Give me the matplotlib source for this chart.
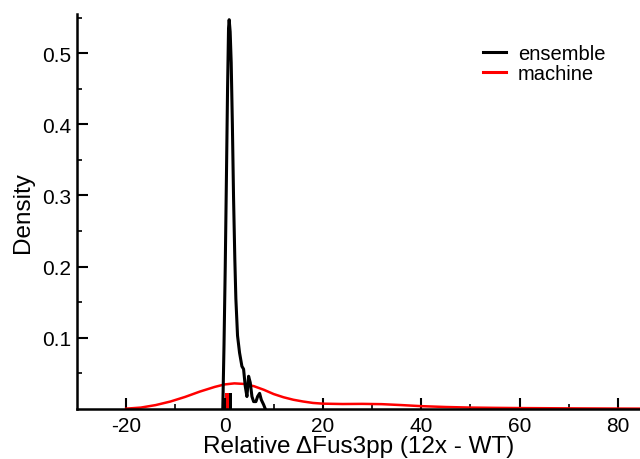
import matplotlib
matplotlib.use('Agg')
import matplotlib.pyplot as plt
import numpy as np

plt.rcParams['font.family'] = ['Liberation Sans', 'DejaVu Sans']
plt.rcParams['axes.unicode_minus'] = False

# ensemble density curve
ens_x = [-0.35, -0.1, 0.15, 0.4, 0.62, 0.82, 0.95, 1.15, 1.36, 1.6, 1.84, 2.1,
         2.31, 2.65, 3.06, 3.54, 3.88, 4.22, 4.56, 4.9, 5.24, 5.58, 5.92, 6.39,
         6.73, 7.14, 7.48, 7.96, 8.3]
ens_y = [0.0, 0.09, 0.2, 0.33, 0.45, 0.535, 0.547, 0.53, 0.487, 0.40, 0.297, 0.21,
         0.155, 0.103, 0.079, 0.060, 0.056, 0.032, 0.0175, 0.046, 0.037, 0.0175, 0.0104, 0.0104,
         0.0175, 0.022, 0.013, 0.006, 0.0]

# machine density curve
mach_x = [-20, -17, -14, -11, -8, -5, -2, 0, 2, 4, 6, 8, 10, 12, 14, 16, 18, 20,
          24, 28, 32, 36, 40, 45, 50, 55, 60, 70, 80, 85]
mach_y = [0.0005, 0.002, 0.0055, 0.0105, 0.017, 0.0245, 0.031, 0.0345, 0.036, 0.0352,
          0.032, 0.027, 0.021, 0.0165, 0.013, 0.0105, 0.0085, 0.0075, 0.007, 0.0072,
          0.0068, 0.0055, 0.004, 0.0028, 0.002, 0.0016, 0.0013, 0.0009, 0.0006, 0.0005]

# small bars near zero
bar_x = [0.5, 1.15]
bar_h = [0.0225, 0.0225]
bar_colors = ['red', 'black']

x_ticks = [-20, 0, 20, 40, 60, 80]
y_ticks = [0.1, 0.2, 0.3, 0.4, 0.5]

fig = plt.figure(figsize=(6.4, 4.6), dpi=100)
ax = fig.add_axes([0.1203, 0.1087, 0.8797, 0.8587])

ax.bar(bar_x, bar_h, width=0.65, color=bar_colors, zorder=1)
ax.plot(ens_x, ens_y, color='black', lw=2.2, label='ensemble', zorder=3)
ax.plot(mach_x, mach_y, color='red', lw=1.8, label='machine', zorder=2)

ax.set_xlim(-30, 84.5)
ax.set_ylim(0, 0.555)
ax.set_xticks(x_ticks)
ax.set_xticks([-10, 10, 30, 50, 70], minor=True)
ax.set_yticks(y_ticks)
ax.set_yticks([0.05, 0.15, 0.25, 0.35, 0.45, 0.55], minor=True)
ax.set_yticklabels([str(v) for v in y_ticks])

for s in ['top', 'right']:
    ax.spines[s].set_visible(False)
for s in ['left', 'bottom']:
    ax.spines[s].set_linewidth(1.8)

ax.tick_params(which='major', direction='in', length=8, width=1.5, labelsize=15)
ax.tick_params(axis='x', which='major', pad=5)
ax.tick_params(axis='y', which='major', pad=4)
ax.tick_params(which='minor', direction='in', length=3.5, width=1.2)

ax.set_xlabel('Relative \u0394Fus3pp (12x - WT)', fontsize=17.5, labelpad=0)
ax.set_ylabel('Density', fontsize=17.5, labelpad=6)

leg = ax.legend(loc='upper left', bbox_to_anchor=(0.721, 0.924), frameon=False, fontsize=14.5,
                handlelength=1.15, handletextpad=0.6, labelspacing=0.05,
                borderpad=0, borderaxespad=0)
for h in leg.legend_handles:
    h.set_linewidth(2.2)

fig.savefig('out.png', dpi=100)
